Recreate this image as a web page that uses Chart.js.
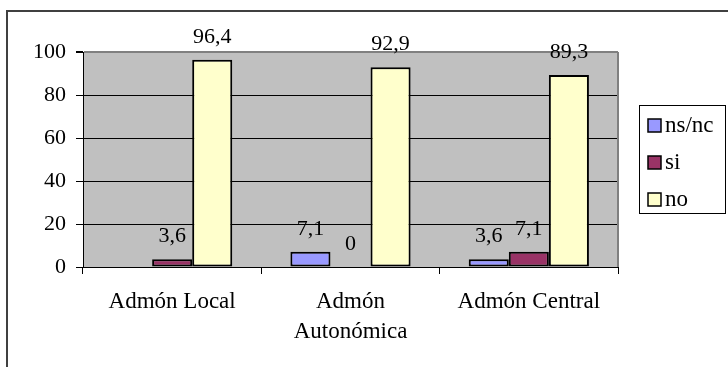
<!DOCTYPE html>
<html>
<head>
<meta charset="utf-8">
<script src="https://cdn.jsdelivr.net/npm/chart.js@4.4.1/dist/chart.umd.min.js"></script>
<style>
  html, body { margin: 0; padding: 0; background: #fff; }
  #wrap { width: 728px; height: 367px; }
</style>
</head>
<body>
<div id="wrap"><canvas id="myChart" width="728" height="367"></canvas></div>
<script>
const categories = [['Admón Local'], ['Admón', 'Autonómica'], ['Admón Central']];
const nsncValues = [null, 7.1, 3.6];
const siValues = [3.6, 0, 7.1];
const noValues = [96.4, 92.9, 89.3];
const yTicks = [0, 20, 40, 60, 80, 100];

const serif = '"Liberation Serif", "Times New Roman", serif';

const frame = {
    id: 'frame',
    beforeDraw(chart) {
        const { ctx, chartArea: a } = chart;
        ctx.save();
        ctx.fillStyle = '#c0c0c0';
        ctx.fillRect(a.left, a.top, a.right - a.left, a.bottom - a.top);
        ctx.strokeStyle = '#404040';
        ctx.lineWidth = 2;
        ctx.strokeRect(7, 11, 730, 400);
        ctx.restore();
    },
    afterDraw(chart) {
        const { ctx, chartArea: a } = chart;
        ctx.save();
        // plot right edge
        ctx.strokeStyle = '#808080';
        ctx.lineWidth = 2;
        ctx.beginPath();
        ctx.moveTo(a.right, a.top);
        ctx.lineTo(a.right, a.bottom);
        ctx.stroke();

        // legend
        ctx.strokeStyle = '#000';
        ctx.lineWidth = 1;
        ctx.strokeRect(639.5, 105.5, 86, 108);
        ctx.font = '23px ' + serif;
        ctx.textBaseline = 'middle';
        ctx.textAlign = 'left';
        const ys = [125, 162, 199];
        chart.data.datasets.forEach((ds, i) => {
            ctx.fillStyle = ds.backgroundColor;
            ctx.fillRect(648, ys[i] - 6, 13, 13);
            ctx.lineWidth = 1.5;
            ctx.strokeStyle = '#000';
            ctx.strokeRect(648, ys[i] - 6, 13, 13);
            ctx.fillStyle = '#000';
            ctx.fillText(ds.label, 665, ys[i] + 1);
        });
        ctx.restore();
    },
    afterDatasetsDraw(chart) {
        const { ctx } = chart;
        ctx.save();
        ctx.font = '22px ' + serif;
        ctx.fillStyle = '#000';
        ctx.textAlign = 'center';
        ctx.textBaseline = 'alphabetic';
        chart.data.datasets.forEach((ds, i) => {
            chart.getDatasetMeta(i).data.forEach((bar, j) => {
                const v = ds.data[j];
                if (v === null || v === undefined) return;
                ctx.fillText(String(v).replace('.', ','), bar.x, bar.y - 17);
            });
        });
        ctx.restore();
    }
};

const ctx = document.getElementById('myChart').getContext('2d');
const myChart = new Chart(ctx, {
    type: 'bar',
    data: {
        labels: categories,
        datasets: [
            { label: 'ns/nc', data: nsncValues, backgroundColor: '#9999ff' },
            { label: 'si', data: siValues, backgroundColor: '#993366' },
            { label: 'no', data: noValues, backgroundColor: '#ffffcc' }
        ]
    },
    options: {
        responsive: false,
        animation: false,
        layout: {
            padding: { top: 52, right: 110, left: 0, bottom: 0 }
        },
        datasets: {
            bar: {
                borderColor: '#000',
                borderWidth: 2,
                borderSkipped: false,
                categoryPercentage: 0.674,
                barPercentage: 1
            }
        },
        scales: {
            x: {
                afterFit: (s) => { s.height = 100; },
                grid: {
                    offset: true,
                    drawOnChartArea: false,
                    drawTicks: true,
                    tickLength: 7,
                    color: '#000'
                },
                border: { display: true, color: '#000', width: 1 },
                ticks: {
                    padding: 13,
                    color: '#000',
                    font: { family: serif, size: 23, lineHeight: 1.3 }
                }
            },
            y: {
                min: 0,
                max: 100,
                afterFit: (s) => { s.width = 83; },
                afterBuildTicks: (s) => { s.ticks = yTicks.map(v => ({ value: v })); },
                grid: {
                    color: (c) => c.tick && c.tick.value === 100 ? '#808080' : '#000',
                    lineWidth: (c) => c.tick && c.tick.value === 100 ? 2 : 1,
                    tickColor: '#000',
                    tickLength: 7
                },
                border: { display: true, color: '#000', width: 1 },
                ticks: {
                    padding: 10,
                    color: '#000',
                    font: { family: serif, size: 22 }
                }
            }
        },
        plugins: {
            legend: { display: false },
            tooltip: { enabled: false }
        }
    },
    plugins: [frame]
});
</script>
</body>
</html>
